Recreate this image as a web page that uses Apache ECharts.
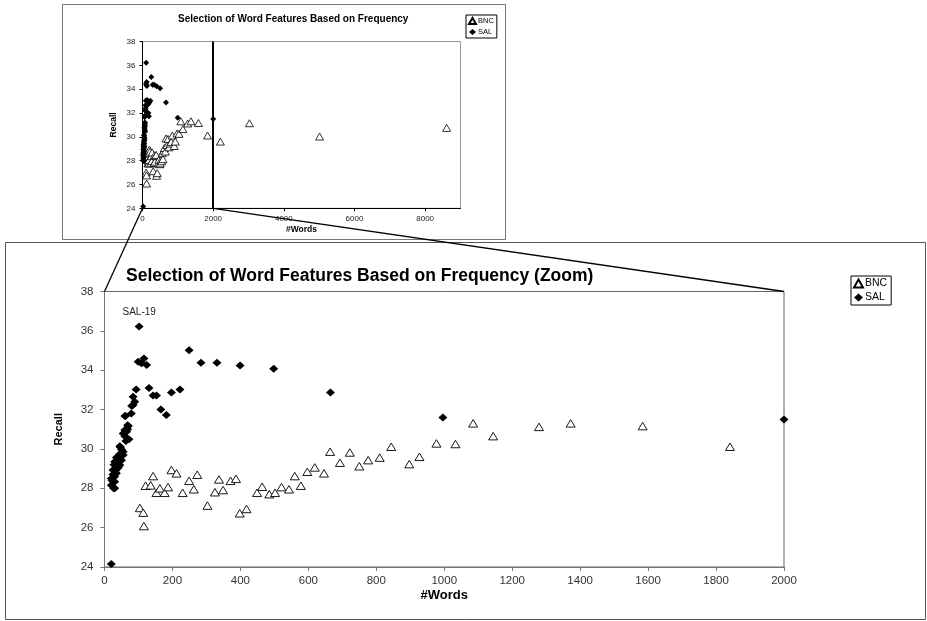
<!DOCTYPE html>
<html><head><meta charset="utf-8">
<script src="https://cdn.jsdelivr.net/npm/echarts@6/dist/echarts.min.js"></script>
<style>html,body{margin:0;padding:0;background:#fff}#c{width:927px;height:621px}</style>
</head><body><div id="c"></div>
<script>
// ---- data ----
const seriesNames = ['BNC', 'SAL'];
const bncData = [
  [104, 27.0], [114, 26.76], [116, 26.08], [121, 28.13], [136, 28.15], [143, 28.62],
  [153, 27.77], [163, 28.0], [177, 27.77], [187, 28.06], [197, 28.93], [212, 28.76],
  [230, 27.77], [249, 28.38], [263, 27.95], [273, 28.69], [303, 27.12], [325, 27.8],
  [337, 28.45], [349, 27.91], [371, 28.38], [387, 28.48], [398, 26.73], [418, 26.95],
  [449, 27.77], [464, 28.08], [485, 27.7], [502, 27.77], [521, 28.06], [543, 27.95],
  [560, 28.62], [578, 28.13], [597, 28.84], [619, 29.06], [646, 28.76], [664, 29.86],
  [693, 29.3], [722, 29.82], [750, 29.12], [776, 29.43], [810, 29.56], [844, 30.11],
  [897, 29.23], [927, 29.6], [977, 30.28], [1033, 30.25], [1085, 31.3], [1144, 30.65],
  [1279, 31.12], [1372, 31.3], [1584, 31.16], [1841, 30.11], [2204, 29.6], [3027, 31.14],
  [5013, 30.02], [8607, 30.75]
];
const salData = [
  [20, 24.15], [20, 28.16], [27, 28.0], [30, 28.0], [30, 28.33], [22, 28.4], [20, 28.5],
  [30, 28.6], [25, 28.7], [35, 28.76], [25, 28.93], [33, 28.9], [38, 29.0], [42, 29.1],
  [40, 29.18], [45, 29.18], [28, 29.2], [35, 29.3], [30, 29.35], [40, 29.4], [50, 29.43],
  [35, 29.57], [55, 29.69], [45, 29.74], [55, 29.86], [50, 29.97], [47, 30.08], [45, 30.14],
  [63, 30.4], [72, 30.49], [60, 30.65], [55, 30.79], [65, 30.87], [60, 30.96], [68, 31.0],
  [70, 31.16], [68, 31.2], [60, 31.67], [62, 31.67], [79, 31.8], [80, 32.18], [84, 32.23],
  [89, 32.4], [84, 32.65], [93, 33.02], [99, 34.43], [109, 34.35], [116, 34.6], [124, 34.26],
  [102, 36.22], [131, 33.1], [143, 32.72], [153, 32.72], [166, 32.0], [182, 31.72],
  [197, 32.87], [222, 33.02], [249, 35.02], [284, 34.38], [331, 34.38], [399, 34.24],
  [498, 34.07], [665, 32.87], [996, 31.6], [2000, 31.5]
];
const labelledPoint = [102, 36.22];
const labelText = 'SAL-19';
const topXTicks = [0, 2000, 4000, 6000, 8000];
const topXMax = 9000;
const zoomXMax = 2000;
const yMin = 24, yMax = 38, yStep = 2;
const zoomXStep = 200;
const titles = ['Selection of Word Features Based on Frequency',
                'Selection of Word Features Based on Frequency (Zoom)'];
const xName = '#Words', yName = 'Recall';

// ---- chart ----
const FONT = '"Liberation Sans", Arial, sans-serif';
const plain = v => String(v);
const chart = echarts.init(document.getElementById('c'), null, {renderer: 'canvas'});
const inZoom = d => d.filter(p => p[0] <= zoomXMax);

const salZoom = inZoom(salData).map(p =>
  (p[0] === labelledPoint[0] && p[1] === labelledPoint[1])
    ? {value: p, label: {show: true, formatter: labelText, position: 'top', distance: 5,
        fontSize: 10, color: '#222', fontFamily: FONT}}
    : p);

const option = {
  animation: false,
  backgroundColor: '#fff',
  title: [
    {text: titles[0], left: 173, top: 9,
     textStyle: {fontSize: 10, fontWeight: 'bold', color: '#000', fontFamily: FONT}},
    {text: titles[1], left: 121, top: 262,
     textStyle: {fontSize: 17.5, fontWeight: 'bold', color: '#000', fontFamily: FONT}}
  ],
  legend: [
    {data: seriesNames, orient: 'vertical', left: 466, top: 15, itemWidth: 7, itemHeight: 6,
     itemGap: 3, padding: [2, 3, 2, 2], borderColor: '#000', borderWidth: 1,
     textStyle: {fontSize: 7.5, color: '#000', fontFamily: FONT, padding: [0, 0, 0, -3]}},
    {data: seriesNames, orient: 'vertical', left: 851, top: 276, itemWidth: 9, itemHeight: 8,
     itemGap: 3, padding: [2, 4, 2, 2], borderColor: '#000', borderWidth: 1,
     textStyle: {fontSize: 10.5, color: '#000', fontFamily: FONT, padding: [0, 0, 0, -3]}}
  ],
  grid: [
    {left: 142.5, top: 41.5, width: 318, height: 166.8, show: true,
     borderColor: '#999', borderWidth: 1},
    {left: 104.5, top: 291.5, width: 679.5, height: 275.5, show: true,
     borderColor: '#666', borderWidth: 1}
  ],
  xAxis: [
    {type: 'value', gridIndex: 0, min: 0, max: topXMax, splitLine: {show: false},
     axisLine: {lineStyle: {color: '#000'}},
     axisTick: {inside: false, length: 3, customValues: topXTicks, lineStyle: {color: '#000'}},
     axisLabel: {customValues: topXTicks, formatter: plain, fontSize: 8, color: '#222', margin: 6, fontFamily: FONT},
     name: xName, nameLocation: 'middle', nameGap: 17,
     nameTextStyle: {fontSize: 8.5, fontWeight: 'bold', color: '#000', fontFamily: FONT}},
    {type: 'value', gridIndex: 1, min: 0, max: zoomXMax, interval: zoomXStep, splitLine: {show: false},
     axisLine: {lineStyle: {color: '#777'}},
     axisTick: {inside: false, length: 4, lineStyle: {color: '#777'}},
     axisLabel: {formatter: plain, fontSize: 11.5, color: '#333', margin: 8, fontFamily: FONT},
     name: xName, nameLocation: 'middle', nameGap: 22,
     nameTextStyle: {fontSize: 13, fontWeight: 'bold', color: '#000', fontFamily: FONT}},
  ],
  yAxis: [
    {type: 'value', gridIndex: 0, min: yMin, max: yMax, interval: yStep, splitLine: {show: false},
     axisLine: {lineStyle: {color: '#000'}},
     axisTick: {inside: false, length: 3, lineStyle: {color: '#000'}},
     axisLabel: {fontSize: 8, color: '#222', margin: 7, fontFamily: FONT},
     name: yName, nameLocation: 'middle', nameGap: 24, nameRotate: 90,
     nameTextStyle: {fontSize: 8.5, fontWeight: 'bold', color: '#000', fontFamily: FONT}},
    {type: 'value', gridIndex: 1, min: yMin, max: yMax, interval: yStep, splitLine: {show: false},
     axisLine: {lineStyle: {color: '#777'}},
     axisTick: {inside: false, length: 4, lineStyle: {color: '#777'}},
     axisLabel: {fontSize: 11.5, color: '#333', margin: 11, fontFamily: FONT},
     name: yName, nameLocation: 'middle', nameGap: 40, nameRotate: 90,
     nameTextStyle: {fontSize: 11, fontWeight: 'bold', color: '#000', fontFamily: FONT}}
  ],
  series: [
    {name: 'BNC', type: 'scatter', xAxisIndex: 0, yAxisIndex: 0, data: bncData,
     symbol: 'triangle', symbolSize: [8, 7],
     itemStyle: {color: '#fff', borderColor: '#000', borderWidth: 0.8, opacity: 1}, z: 3},
    {name: 'SAL', type: 'scatter', xAxisIndex: 0, yAxisIndex: 0, data: salData,
     symbol: 'diamond', symbolSize: [6, 6], itemStyle: {color: '#000', opacity: 1}, z: 4,
     markLine: {silent: true, symbol: 'none', label: {show: false},
       lineStyle: {color: '#000', width: 2, type: 'solid'},
       data: [{xAxis: zoomXMax}]}},
    {name: 'BNC', type: 'scatter', xAxisIndex: 1, yAxisIndex: 1, data: inZoom(bncData),
     symbol: 'triangle', symbolSize: [9, 7.5], clip: false,
     itemStyle: {color: '#fff', borderColor: '#000', borderWidth: 0.9, opacity: 1}, z: 3},
    {name: 'SAL', type: 'scatter', xAxisIndex: 1, yAxisIndex: 1, data: salZoom,
     symbol: 'diamond', symbolSize: [9, 8], clip: false, itemStyle: {color: '#000', opacity: 1}, z: 4}
  ]
};
chart.setOption(option);

// frames and zoom connectors (connector ends are taken from the axes)
const a = chart.convertToPixel({gridIndex: 0}, [0, yMin]);
const b = chart.convertToPixel({gridIndex: 1}, [0, yMax]);
const c = chart.convertToPixel({gridIndex: 0}, [zoomXMax, yMin]);
const d = chart.convertToPixel({gridIndex: 1}, [zoomXMax, yMax]);
chart.setOption({
  graphic: [
    {type: 'rect', z: -1, silent: true, shape: {x: 62.5, y: 4.5, width: 443, height: 235},
     style: {fill: 'none', stroke: '#777', lineWidth: 1}},
    {type: 'rect', z: -1, silent: true, shape: {x: 5.5, y: 242.5, width: 920, height: 377},
     style: {fill: 'none', stroke: '#555', lineWidth: 1}},
    {type: 'line', z: 10, silent: true, shape: {x1: a[0], y1: a[1], x2: b[0], y2: b[1]},
     style: {stroke: '#000', lineWidth: 1.3}},
    {type: 'line', z: 10, silent: true, shape: {x1: c[0], y1: c[1], x2: d[0], y2: d[1]},
     style: {stroke: '#000', lineWidth: 1.3}}
  ]
});
</script></body></html>
